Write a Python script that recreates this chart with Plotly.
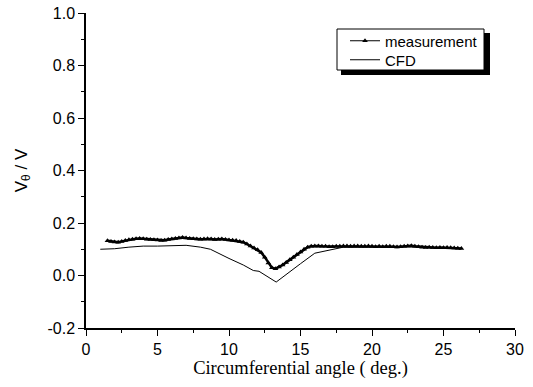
import plotly.graph_objects as go

meas_x = [1.5, 1.75, 2.0, 2.25, 2.5, 2.75, 3.0, 3.25, 3.5, 3.75, 4.0, 4.25, 4.5, 4.75, 5.0, 5.25, 5.5, 5.75,
          6.0, 6.25, 6.5, 6.75, 7.0, 7.25, 7.5, 7.75, 8.0, 8.25, 8.5, 8.75, 9.0, 9.25, 9.5, 9.75, 10.0, 10.25,
          10.5, 10.75, 11.0, 11.25, 11.5, 11.75, 12.0, 12.25, 12.5, 12.75, 13.0, 13.25, 13.5, 13.75, 14.0, 14.25,
          14.5, 14.75, 15.0, 15.25, 15.5, 15.75, 16.0, 16.25, 16.5, 16.75, 17.0, 17.25, 17.5, 17.75, 18.0, 18.25,
          18.5, 18.75, 19.0, 19.25, 19.5, 19.75, 20.0, 20.25, 20.5, 20.75, 21.0, 21.25, 21.5, 21.75, 22.0, 22.25,
          22.5, 22.75, 23.0, 23.25, 23.5, 23.75, 24.0, 24.25, 24.5, 24.75, 25.0, 25.25, 25.5, 25.75, 26.0, 26.25]
meas_y = [0.132, 0.130, 0.128, 0.127, 0.130, 0.133, 0.136, 0.138, 0.140, 0.141, 0.140, 0.138, 0.137, 0.136,
          0.135, 0.133, 0.134, 0.137, 0.139, 0.141, 0.143, 0.145, 0.143, 0.141, 0.140, 0.139, 0.138, 0.139,
          0.140, 0.139, 0.137, 0.138, 0.139, 0.137, 0.135, 0.134, 0.133, 0.130, 0.127, 0.120, 0.112, 0.105,
          0.098, 0.088, 0.070, 0.048, 0.030, 0.026, 0.032, 0.040, 0.050, 0.060, 0.070, 0.080, 0.090, 0.100,
          0.108, 0.111, 0.112, 0.112, 0.111, 0.111, 0.110, 0.110, 0.111, 0.111, 0.112, 0.112, 0.111, 0.112,
          0.112, 0.111, 0.111, 0.112, 0.111, 0.110, 0.111, 0.110, 0.111, 0.111, 0.110, 0.109, 0.110, 0.111,
          0.112, 0.113, 0.111, 0.110, 0.108, 0.107, 0.108, 0.107, 0.106, 0.107, 0.106, 0.107, 0.106, 0.105,
          0.104, 0.103]

cfd_x = [1.0, 2.0, 3.0, 4.0, 5.0, 6.0, 7.0, 8.0, 8.7, 10.0, 11.0, 11.7, 12.1, 13.3, 14.0, 15.0, 16.0, 17.2,
         18.0, 20.0, 22.0, 24.0, 26.2]
cfd_y = [0.100, 0.102, 0.108, 0.112, 0.112, 0.113, 0.115, 0.108, 0.100, 0.065, 0.040, 0.019, 0.016, -0.025,
         0.005, 0.045, 0.085, 0.100, 0.108, 0.110, 0.110, 0.107, 0.103]

x_ticks = [0, 5, 10, 15, 20, 25, 30]
y_ticks = [-0.2, 0.0, 0.2, 0.4, 0.6, 0.8, 1.0]

L, R, T, B = 86, 18, 13, 59
W, H = 533, 387
pw, ph = W - L - R, H - T - B


def px_x(p):
    return (p - L) / pw


def px_y(p):
    return (H - B - p) / ph


fig = go.Figure()
fig.add_trace(go.Scatter(x=cfd_x, y=cfd_y, name="CFD", mode="lines",
                         line=dict(color="black", width=1), legend="legend2"))
fig.add_trace(go.Scatter(x=meas_x, y=meas_y, name="measurement", mode="lines+markers",
                         line=dict(color="black", width=2.5),
                         marker=dict(symbol="triangle-up", size=5, color="black"),
                         showlegend=False))
# thin legend entry for the measurement series (no data drawn)
fig.add_trace(go.Scatter(x=[None], y=[None], name="measurement", mode="lines+markers",
                         line=dict(color="black", width=1),
                         marker=dict(symbol="triangle-up", size=5, color="black"),
                         legend="legend"))

# legend frame with drop shadow
fig.add_shape(type="rect", xref="paper", yref="paper",
              x0=px_x(341), x1=px_x(490), y0=px_y(75), y1=px_y(33),
              fillcolor="black", line=dict(width=0), layer="above")
fig.add_shape(type="rect", xref="paper", yref="paper",
              x0=px_x(337), x1=px_x(484), y0=px_y(70), y1=px_y(29),
              fillcolor="white", line=dict(color="black", width=1), layer="above")

leg_common = dict(xanchor="left", yanchor="middle", bgcolor="rgba(0,0,0,0)",
                  borderwidth=0, font=dict(size=15), itemwidth=30)

fig.update_layout(
    width=W, height=H, margin=dict(l=L, r=R, t=T, b=B, autoexpand=False),
    plot_bgcolor="white", paper_bgcolor="white",
    font=dict(family="Arial, Liberation Sans", size=16, color="black"),
    showlegend=True,
    legend=dict(x=px_x(345), y=px_y(41), **leg_common),
    legend2=dict(x=px_x(345), y=px_y(60), **leg_common),
    xaxis=dict(range=[0, 30], tickvals=x_ticks, ticktext=[str(v) for v in x_ticks],
               showline=True, linecolor="black", linewidth=1.5, ticks="outside",
               ticklen=6, tickwidth=1.2, tickcolor="black", showgrid=False, zeroline=False,
               tickfont=dict(size=16), automargin=False,
               minor=dict(dtick=2.5, ticks="outside", ticklen=3, tickcolor="black", tickwidth=1.2),
               title=dict(text="Circumferential angle ( deg.)",
                          font=dict(family="Times New Roman, Liberation Serif", size=18.5), standoff=4)),
    yaxis=dict(range=[-0.2, 1.0], tickvals=y_ticks, ticktext=["%.1f" % v for v in y_ticks],
               showline=True, linecolor="black", linewidth=1.5, ticks="outside",
               ticklen=6, tickwidth=1.2, tickcolor="black", showgrid=False, zeroline=False,
               tickfont=dict(size=16), automargin=False,
               minor=dict(dtick=0.1, ticks="outside", ticklen=3, tickcolor="black", tickwidth=1.2),
               title=dict(text="V<sub>θ</sub> / V", font=dict(size=17), standoff=16)),
)

fig.write_html("out.html")
